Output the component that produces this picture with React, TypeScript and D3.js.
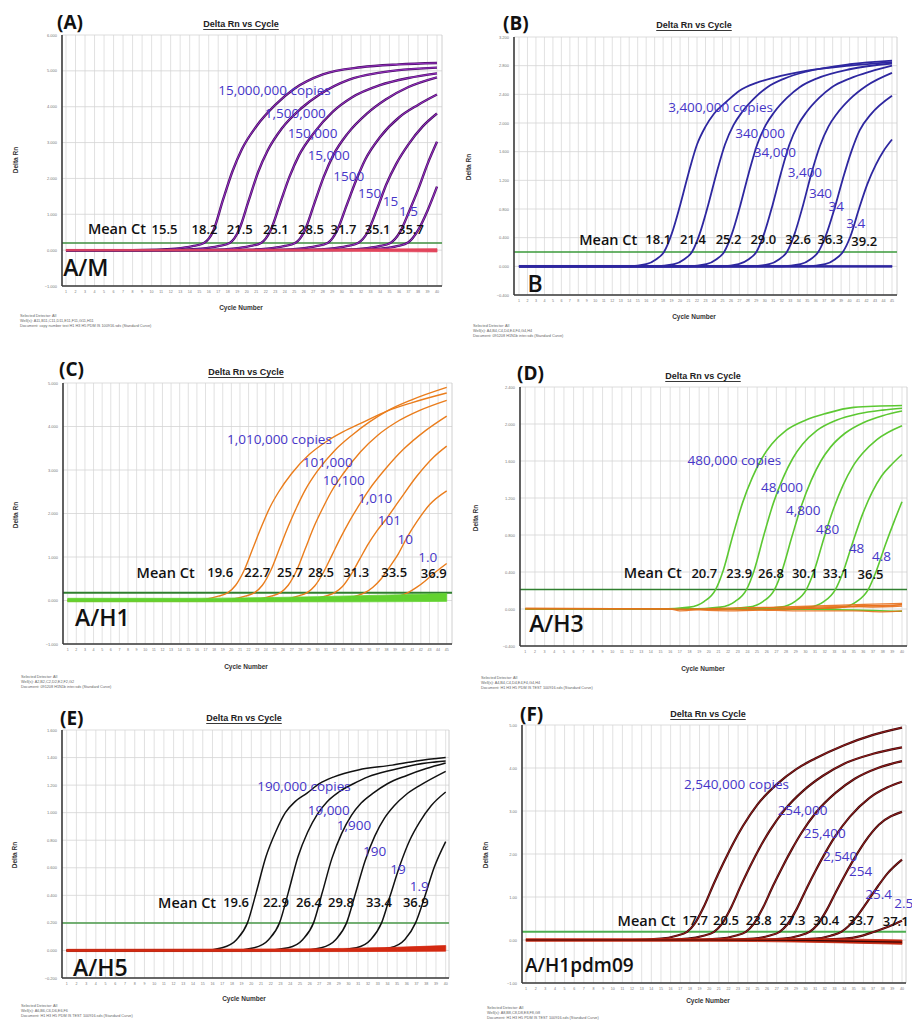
import React from 'react';
import * as d3 from 'd3';

type Pt = [number, number];
type Band = [number, number, number];

// ---------------- Panel A : A/M ----------------
const aYTicks = [-1, 0, 1, 2, 3, 4, 5, 6];
const aCopies = ['15,000,000 copies', '1,500,000', '150,000', '15,000', '1500', '150', '15', '1.5'];
const aMeanCt = ['15.5', '18.2', '21.5', '25.1', '28.5', '31.7', '35.1', '35.7'];
const aCurves: Pt[][] = [
  [[1,0],[8,0],[10.5,0.01],[12.5,0.04],[14.3,0.11],[15.5,0.2],[16.5,0.55],[17.5,1.4],[18.5,2.2],[19.5,2.82],[21,3.45],[23,4.05],[25,4.5],[28,4.9],[32,5.1],[36,5.18],[40,5.22]],
  [[1,0],[11,0],[13.3,0.01],[15.2,0.04],[17,0.11],[18.2,0.2],[19.2,0.57],[20.2,1.38],[21.2,2.18],[22.2,2.78],[23.7,3.4],[25.7,3.95],[27.7,4.35],[30.7,4.75],[34,4.95],[40,5.09]],
  [[1,0],[14,0],[16.6,0.01],[18.5,0.04],[20.3,0.11],[21.5,0.2],[22.5,0.55],[23.5,1.3],[24.5,2.05],[25.5,2.65],[27,3.25],[29,3.85],[31,4.25],[34,4.6],[37,4.8],[40,4.93]],
  [[1,0],[18,0],[20.2,0.01],[22.1,0.04],[23.9,0.11],[25.1,0.2],[26.1,0.55],[27.1,1.3],[28.1,2.05],[29.1,2.65],[30.6,3.25],[32.6,3.8],[34.6,4.2],[37,4.55],[40,4.82]],
  [[1,0],[21,0],[23.6,0.01],[25.5,0.04],[27.3,0.11],[28.5,0.2],[29.5,0.55],[30.5,1.25],[31.5,1.95],[32.5,2.55],[34,3.15],[36,3.7],[38,4.05],[40,4.34]],
  [[1,0],[24,0],[26.8,0.01],[28.7,0.04],[30.5,0.11],[31.7,0.2],[32.7,0.5],[33.7,1.15],[34.7,1.85],[35.7,2.4],[37,2.95],[38.5,3.45],[40,3.81]],
  [[1,0],[27,0],[30.2,0.01],[32.1,0.04],[33.9,0.11],[35.1,0.2],[36.1,0.5],[37.1,1.1],[38.1,1.75],[39,2.4],[40,3.02]],
  [[1,0],[29,0],[32,0.01],[34,0.04],[35.8,0.11],[37,0.22],[38,0.55],[39,1.1],[40,1.77]],
];
const aNegBand: Band[] = [[1,-0.02,0.02],[15,-0.02,0.02],[30,-0.03,0.03],[40,-0.05,0.04]];
const aCopyPos: Pt[] = [[17.0,4.46],[21.9,3.82],[24.3,3.26],[26.4,2.65],[29.1,2.06],[31.7,1.59],[34.3,1.36],[36.0,1.08]];
const aCtPos: Pt[] = [[10.0,0.59],[14.2,0.59],[17.9,0.59],[21.7,0.59],[25.4,0.59],[28.8,0.59],[32.4,0.59],[35.9,0.59]];

// ---------------- Panel B : B ----------------
const bYTicks = [-0.4, 0, 0.4, 0.8, 1.2, 1.6, 2.0, 2.4, 2.8, 3.2];
const bCopies = ['3,400,000 copies', '340,000', '34,000', '3,400', '340', '34', '3.4'];
const bMeanCt = ['18.1', '21.4', '25.2', '29.0', '32.6', '36.3', '39.2'];
const bCurves: Pt[][] = [
  [[1,0],[14,0],[16,0.03],[17.2,0.1],[18.1,0.2],[19,0.45],[20,0.85],[21,1.3],[22,1.7],[23,1.95],[24,2.13],[25.5,2.3],[27,2.45],[29,2.56],[31,2.63],[35,2.73],[40,2.8],[45,2.85]],
  [[1,0],[17,0],[19.3,0.03],[20.5,0.1],[21.4,0.2],[22.3,0.45],[23.3,0.85],[24.3,1.3],[25.3,1.7],[26.3,1.97],[27.3,2.15],[28.8,2.35],[30.3,2.5],[32.3,2.62],[35,2.72],[40,2.82],[45,2.87]],
  [[1,0],[21,0],[23.1,0.03],[24.3,0.1],[25.2,0.2],[26.1,0.45],[27.1,0.85],[28.1,1.3],[29.1,1.7],[30.1,1.97],[31.1,2.15],[32.6,2.35],[34.1,2.5],[36.1,2.62],[40,2.75],[45,2.83]],
  [[1,0],[25,0],[26.9,0.03],[28.1,0.1],[29,0.2],[29.9,0.45],[30.9,0.85],[31.9,1.3],[32.9,1.7],[33.9,1.97],[34.9,2.15],[36.4,2.35],[37.9,2.5],[40,2.62],[42.5,2.72],[45,2.8]],
  [[1,0],[28,0],[30.5,0.03],[31.7,0.1],[32.6,0.2],[33.5,0.45],[34.5,0.85],[35.5,1.3],[36.5,1.68],[37.5,1.95],[38.5,2.13],[40,2.33],[42,2.52],[45,2.7]],
  [[1,0],[32,0],[34.2,0.03],[35.4,0.1],[36.3,0.2],[37.2,0.43],[38.2,0.8],[39.2,1.22],[40.2,1.6],[41.2,1.9],[42.5,2.12],[45,2.38]],
  [[1,0],[35,0],[37.1,0.03],[38.3,0.1],[39.2,0.2],[40.1,0.42],[41.1,0.8],[42.1,1.15],[43.1,1.42],[44,1.61],[45,1.77]],
];
const bNegBand: Band[] = [[1,-0.012,0.012],[45,-0.012,0.012]];
const bCopyPos: Pt[] = [[18.6,2.22],[26.5,1.86],[28.7,1.59],[32.7,1.32],[35.2,1.02],[37.5,0.84],[39.6,0.61]];
const bCtPos: Pt[] = [[15.9,0.38],[20.0,0.38],[24.2,0.38],[28.3,0.38],[32.4,0.38],[36.2,0.38],[40.2,0.36]];

// ---------------- Panel C : A/H1 ----------------
const cYTicks = [-1, 0, 1, 2, 3, 4, 5];
const cCopies = ['1,010,000 copies', '101,000', '10,100', '1,010', '101', '10', '1.0'];
const cMeanCt = ['19.6', '22.7', '25.7', '28.5', '31.3', '33.5', '36.9'];
const cCurves: Pt[][] = [
  [[1,0],[15,0],[17,0.03],[18.5,0.1],[19.6,0.18],[20.5,0.35],[21.5,0.7],[22.5,1.2],[23.5,1.7],[24.5,2.15],[25.5,2.5],[27,2.92],[29,3.35],[31,3.65],[33,3.88],[35,4.07],[38,4.35],[41,4.55],[45,4.77]],
  [[1,0],[18,0],[20.1,0.03],[21.6,0.1],[22.7,0.18],[23.6,0.35],[24.6,0.7],[25.6,1.2],[26.6,1.7],[27.6,2.15],[28.6,2.55],[30,2.98],[32,3.45],[34,3.8],[36,4.1],[38,4.35],[41,4.62],[45,4.9]],
  [[1,0],[21,0],[23.1,0.03],[24.6,0.1],[25.7,0.18],[26.6,0.35],[27.6,0.7],[28.6,1.2],[29.6,1.7],[30.6,2.12],[31.6,2.5],[33,2.92],[35,3.42],[37,3.8],[39,4.08],[42,4.38],[45,4.6]],
  [[1,0],[24,0],[26.3,0.03],[27.7,0.1],[28.8,0.18],[29.7,0.34],[30.7,0.65],[31.7,1.05],[32.7,1.45],[33.7,1.82],[34.7,2.15],[36,2.55],[38,3.05],[40,3.48],[42.5,3.9],[45,4.24]],
  [[1,0],[27,0],[29.5,0.03],[30.9,0.1],[32,0.18],[32.9,0.32],[33.9,0.6],[34.9,0.95],[35.9,1.3],[36.9,1.6],[38,1.88],[39.5,2.3],[41.5,2.85],[43.5,3.3],[45,3.55]],
  [[1,0],[30,0],[33,0.03],[34.4,0.1],[35.5,0.18],[36.4,0.3],[37.4,0.5],[38.4,0.78],[39.4,1.08],[40.4,1.45],[41.5,1.8],[43,2.2],[45,2.52]],
  [[1,0],[34,0],[37.5,0.03],[39.2,0.08],[40.5,0.18],[41.5,0.3],[42.5,0.45],[43.5,0.62],[45,0.85]],
];
const cNegBand: Band[] = [[1,-0.03,0.05],[15,-0.03,0.05],[25,-0.03,0.07],[35,-0.03,0.11],[45,-0.02,0.16]];
const cCopyPos: Pt[] = [[19.5,3.72],[28.3,3.18],[30.6,2.77],[34.7,2.36],[37.0,1.85],[39.3,1.41],[41.7,1.0]];
const cCtPos: Pt[] = [[17.2,0.65],[21.5,0.65],[25.3,0.65],[28.9,0.65],[33.0,0.65],[37.4,0.65],[42.0,0.63]];

// ---------------- Panel D : A/H3 ----------------
const dYTicks = [-0.4, 0, 0.4, 0.8, 1.2, 1.6, 2.0, 2.4];
const dCopies = ['480,000 copies', '48,000', '4,800', '480', '48', '4.8'];
const dMeanCt = ['20.7', '23.9', '26.8', '30.1', '33.1', '36.5'];
const dCurves: Pt[][] = [
  [[1,0],[15,0],[18,0.02],[19.5,0.08],[20.7,0.21],[21.5,0.42],[22.5,0.8],[23.5,1.15],[24.5,1.42],[25.5,1.63],[26.5,1.78],[28,1.93],[30,2.04],[32,2.11],[35,2.18],[40,2.2]],
  [[1,0],[18,0],[21.2,0.02],[22.7,0.08],[23.9,0.21],[24.7,0.42],[25.7,0.8],[26.7,1.15],[27.7,1.42],[28.7,1.63],[29.7,1.78],[31.2,1.93],[33.2,2.04],[35.5,2.11],[38,2.15],[40,2.17]],
  [[1,0],[21,0],[24.1,0.02],[25.6,0.08],[26.8,0.21],[27.6,0.42],[28.6,0.78],[29.6,1.12],[30.6,1.39],[31.6,1.6],[32.6,1.75],[34.1,1.9],[36.1,2.02],[38,2.09],[40,2.14]],
  [[1,0],[24,0],[27.4,0.02],[28.9,0.08],[30.1,0.21],[30.9,0.41],[31.9,0.76],[32.9,1.08],[33.9,1.34],[34.9,1.54],[35.9,1.68],[37.4,1.83],[40,1.98]],
  [[1,0],[27,0],[30.4,0.02],[31.9,0.08],[33.1,0.21],[33.9,0.4],[34.9,0.72],[35.9,1.02],[36.9,1.26],[37.9,1.44],[39,1.57],[40,1.67]],
  [[1,0],[30,0],[33.8,0.02],[35.3,0.08],[36.5,0.21],[37.3,0.4],[38.3,0.7],[39.2,0.95],[40,1.16]],
];
const dNoise: Pt[][] = [
  [[1,0.01],[10,0.005],[16,0],[17,-0.02],[20,0.005],[27,0.02],[32,0.035],[36,0.05],[40,0.06]],
  [[1,0],[16,0],[22,-0.02],[28,0],[34,0.02],[37,0.035],[40,0.045]],
  [[18,0],[25,-0.01],[30,-0.02],[35,-0.02],[38,-0.03],[40,-0.02]],
  [[24,0.01],[30,0.015],[34,0.03],[37,0.02],[40,0.03]],
  [[28,0.005],[33,0.01],[36,0.04],[38,0.03],[40,0.05]],
];
const dNegGreen: Pt[] = [[1,0],[25,0],[35,-0.01],[40,-0.025]];
const dCopyPos: Pt[] = [[17.8,1.61],[25.4,1.32],[28.0,1.07],[31.1,0.87],[34.5,0.66],[36.9,0.57]];
const dCtPos: Pt[] = [[18.2,0.39],[21.8,0.39],[25.1,0.39],[28.6,0.39],[31.8,0.39],[35.4,0.38]];

// ---------------- Panel E : A/H5 ----------------
const eYTicks = [-0.2, 0, 0.2, 0.4, 0.6, 0.8, 1.0, 1.2, 1.4, 1.6];
const eCopies = ['190,000 copies', '19,000', '1,900', '190', '19', '1.9'];
const eMeanCt = ['19.6', '22.9', '26.4', '29.8', '33.4', '36.9'];
const eCurves: Pt[][] = [
  [[1,0],[15,0],[17,0.02],[18.5,0.08],[19.6,0.2],[20.5,0.42],[21.5,0.68],[22.5,0.86],[23.5,1.0],[24.5,1.08],[25.7,1.14],[27,1.21],[28.5,1.26],[31,1.31],[34.5,1.345],[37,1.375],[40,1.4]],
  [[1,0],[18,0],[20.3,0.02],[21.8,0.08],[22.9,0.2],[23.8,0.42],[24.8,0.68],[25.8,0.86],[26.8,0.99],[27.8,1.08],[29,1.15],[30.5,1.21],[32,1.26],[34.5,1.31],[37,1.35],[40,1.375]],
  [[1,0],[21,0],[23.8,0.02],[25.3,0.08],[26.4,0.2],[27.3,0.42],[28.3,0.67],[29.3,0.85],[30.3,0.98],[31.3,1.07],[32.5,1.14],[34,1.21],[36,1.27],[38,1.32],[40,1.36]],
  [[1,0],[25,0],[27.2,0.02],[28.7,0.08],[29.8,0.2],[30.7,0.41],[31.7,0.65],[32.7,0.83],[33.7,0.96],[34.7,1.05],[35.9,1.13],[37.4,1.2],[40,1.3]],
  [[1,0],[28,0],[30.8,0.02],[32.3,0.08],[33.4,0.2],[34.3,0.4],[35.3,0.62],[36.3,0.8],[37.3,0.93],[38.5,1.05],[40,1.15]],
  [[1,0],[32,0],[34.3,0.02],[35.8,0.08],[36.9,0.2],[37.8,0.38],[38.8,0.6],[40,0.79]],
];
const eNegBand: Band[] = [[1,-0.008,0.008],[20,-0.008,0.01],[30,-0.008,0.015],[40,-0.005,0.035]];
const eCopyPos: Pt[] = [[20.6,1.19],[25.8,1.02],[28.8,0.91],[31.5,0.72],[34.3,0.59],[36.3,0.47]];
const eCtPos: Pt[] = [[17.1,0.35],[21.2,0.35],[24.6,0.35],[27.9,0.35],[31.8,0.35],[35.6,0.35]];

// ---------------- Panel F : A/H1pdm09 ----------------
const fYTicks = [-1, 0, 1, 2, 3, 4, 5];
const fCopies = ['2,540,000 copies', '254,000', '25,400', '2,540', '254', '25.4', '2.5'];
const fMeanCt = ['17.7', '20.5', '23.8', '27.3', '30.4', '33.7', '37.1'];
const fCurves: Pt[][] = [
  [[1,0],[12,0],[15,0.03],[16.6,0.1],[17.7,0.19],[18.5,0.38],[19.5,0.8],[20.5,1.32],[21.5,1.8],[22.5,2.25],[23.5,2.65],[25,3.15],[27,3.62],[29,3.97],[31,4.22],[34,4.53],[37,4.77],[40,4.94]],
  [[1,0],[15,0],[17.8,0.03],[19.4,0.1],[20.5,0.19],[21.3,0.37],[22.3,0.77],[23.3,1.27],[24.3,1.74],[25.3,2.17],[26.3,2.55],[27.8,3.02],[29.8,3.48],[31.8,3.82],[34,4.1],[37,4.33],[40,4.48]],
  [[1,0],[18,0],[21.1,0.03],[22.7,0.1],[23.8,0.19],[24.6,0.37],[25.6,0.76],[26.6,1.25],[27.6,1.7],[28.6,2.12],[29.6,2.5],[31.1,2.97],[33.1,3.42],[35.1,3.75],[37.5,4.0],[40,4.16]],
  [[1,0],[21,0],[24.6,0.03],[26.2,0.1],[27.3,0.19],[28.1,0.36],[29.1,0.73],[30.1,1.2],[31.1,1.64],[32.1,2.05],[33.1,2.42],[34.6,2.87],[36.6,3.3],[38.5,3.55],[40,3.68]],
  [[1,0],[24,0],[27.7,0.03],[29.3,0.1],[30.4,0.19],[31.2,0.35],[32.2,0.7],[33.2,1.14],[34.2,1.56],[35.2,1.95],[36.2,2.3],[37.6,2.68],[40,2.98]],
  [[1,0],[27,0],[31,0.03],[32.6,0.1],[33.7,0.19],[34.5,0.33],[35.5,0.6],[36.5,0.92],[37.5,1.25],[38.5,1.55],[40,1.87]],
  [[1,0],[30,0],[34,0.03],[35.7,0.09],[37.1,0.19],[38,0.26],[39,0.35],[40,0.45]],
];
const fNegBand: Band[] = [[1,-0.03,0.03],[20,-0.03,0.03],[30,-0.05,0.03],[40,-0.1,0.0]];
const fCopyPos: Pt[] = [[17.4,3.63],[27.1,3.03],[29.8,2.49],[31.8,1.95],[34.5,1.6],[36.2,1.07],[39.2,0.87]];
const fCtPos: Pt[] = [[17.2,0.46],[20.4,0.46],[23.8,0.46],[27.3,0.46],[30.8,0.46],[34.4,0.46],[38.0,0.44]];

const SANS = "'Open Sans', 'Noto Sans', sans-serif";
const ARIAL = "'Liberation Sans', Arial, sans-serif";
const LABEL_BLUE = '#4636c8';

interface Cfg {
  letter: string; tag: string; tagSize: number;
  cycles: number; yTicks: number[]; yFmt: string;
  box: { l: number; r: number; t: number; b: number }; xr: [number, number];
  letterPos: Pt; titlePos: Pt; xLabelPos: Pt; yLabelPos: Pt; footPos: Pt;
  curves: Pt[][]; curveColor: string; curveWidth: number; curveOutline?: string;
  band?: Band[]; bandColor?: string;
  noise?: Pt[][]; noiseColor?: string; extraLine?: Pt[]; extraColor?: string;
  threshold: number; thColor: string; thWidth: number;
  copies: string[]; copyPos: Pt[]; meanCt: string[]; ctPos: Pt[]; meanPos: Pt; tagPos: Pt;
  foot: string[];
}

const configs: Cfg[] = [
  {
    letter: '(A)', tag: 'A/M', tagSize: 23, cycles: 40, yTicks: aYTicks, yFmt: '.3f',
    box: { l: 62, r: 442, t: 35, b: 286 }, xr: [66, 437],
    letterPos: [57, 22], titlePos: [241, 24], xLabelPos: [241, 307], yLabelPos: [15, 160], footPos: [20, 316],
    curves: aCurves, curveColor: '#9a32c4', curveWidth: 1.0, curveOutline: '#4a0f68',
    band: aNegBand, bandColor: '#e2455c',
    threshold: 0.2, thColor: '#3e8e3e', thWidth: 1.6,
    copies: aCopies, copyPos: aCopyPos, meanCt: aMeanCt, ctPos: aCtPos, meanPos: [3.3, 0.59], tagPos: [0.7, -0.47],
    foot: ['Selected Detector: All', 'Well(s): A11,B11,C11,D11,E11,F11,G11,H11', 'Document: copy number test  H1 H3 H5 PDM IS 100916.sds (Standard Curve)'],
  },
  {
    letter: '(B)', tag: 'B', tagSize: 23, cycles: 45, yTicks: bYTicks, yFmt: '.3f',
    box: { l: 514, r: 897, t: 37, b: 295 }, xr: [519, 892],
    letterPos: [503, 23], titlePos: [694, 25], xLabelPos: [694, 316], yLabelPos: [468, 167], footPos: [473, 326],
    curves: bCurves, curveColor: '#2e27a0', curveWidth: 1.8,
    band: bNegBand, bandColor: '#2e27a0',
    threshold: 0.2, thColor: '#3a9a3a', thWidth: 1.5,
    copies: bCopies, copyPos: bCopyPos, meanCt: bMeanCt, ctPos: bCtPos, meanPos: [8.1, 0.38], tagPos: [2.0, -0.23],
    foot: ['Selected Detector: All', 'Well(s): A4,B4,C4,D4,E4,F4,G4,H4', 'Document: 091208 H1N1b inter.sds (Standard Curve)'],
  },
  {
    letter: '(C)', tag: 'A/H1', tagSize: 23, cycles: 45, yTicks: cYTicks, yFmt: '.3f',
    box: { l: 63, r: 452, t: 383, b: 644 }, xr: [67.7, 446.7],
    letterPos: [59, 369], titlePos: [246, 372], xLabelPos: [246, 666], yLabelPos: [15, 515], footPos: [21, 677],
    curves: cCurves, curveColor: '#ea7d1c', curveWidth: 1.4,
    band: cNegBand, bandColor: '#62d230',
    threshold: 0.18, thColor: '#2f7f2f', thWidth: 2,
    copies: cCopies, copyPos: cCopyPos, meanCt: cMeanCt, ctPos: cCtPos, meanPos: [9.0, 0.65], tagPos: [1.85, -0.38],
    foot: ['Selected Detector: All', 'Well(s): A2,B2,C2,D2,E2,F2,G2', 'Document: 091208 H1N1b inter.sds (Standard Curve)'],
  },
  {
    letter: '(D)', tag: 'A/H3', tagSize: 23, cycles: 40, yTicks: dYTicks, yFmt: '.3f',
    box: { l: 520, r: 907, t: 387, b: 646 }, xr: [525.3, 902],
    letterPos: [517, 373], titlePos: [703, 376], xLabelPos: [703, 668], yLabelPos: [475, 518], footPos: [481, 678],
    curves: dCurves, curveColor: '#5cc832', curveWidth: 1.6,
    noise: dNoise, noiseColor: '#e8701c', extraLine: dNegGreen, extraColor: '#5cc832',
    threshold: 0.21, thColor: '#2f7f2f', thWidth: 1.5,
    copies: dCopies, copyPos: dCopyPos, meanCt: dMeanCt, ctPos: dCtPos, meanPos: [11.2, 0.39], tagPos: [1.4, -0.15],
    foot: ['Selected Detector: All', 'Well(s): A4,B4,C4,D4,E4,F4,G4,H4', 'Document: H1 H3 H5 PDM IS TEST 100916.sds (Standard Curve)'],
  },
  {
    letter: '(E)', tag: 'A/H5', tagSize: 23, cycles: 40, yTicks: eYTicks, yFmt: '.3f',
    box: { l: 62, r: 449, t: 730, b: 978 }, xr: [66.7, 445.7],
    letterPos: [60, 718], titlePos: [244, 718], xLabelPos: [244, 998], yLabelPos: [14, 855], footPos: [21, 1006],
    curves: eCurves, curveColor: '#111111', curveWidth: 1.5,
    band: eNegBand, bandColor: '#d42a12',
    threshold: 0.2, thColor: '#4a9a4a', thWidth: 1.5,
    copies: eCopies, copyPos: eCopyPos, meanCt: eMeanCt, ctPos: eCtPos, meanPos: [10.4, 0.35], tagPos: [1.65, -0.12],
    foot: ['Selected Detector: All', 'Well(s): A6,B6,C6,D6,E6,F6', 'Document: H1 H3 H5 PDM IS TEST 100916.sds (Standard Curve)'],
  },
  {
    letter: '(F)', tag: 'A/H1pdm09', tagSize: 19, cycles: 40, yTicks: fYTicks, yFmt: '.2f',
    box: { l: 522, r: 906, t: 725, b: 983 }, xr: [526, 902],
    letterPos: [520, 714], titlePos: [708, 714], xLabelPos: [708, 1000], yLabelPos: [485, 855], footPos: [487, 1008],
    curves: fCurves, curveColor: '#b02222', curveWidth: 0.8, curveOutline: '#3a0808',
    band: fNegBand, bandColor: '#c4260e',
    threshold: 0.19, thColor: '#4caf50', thWidth: 2,
    copies: fCopies, copyPos: fCopyPos, meanCt: fMeanCt, ctPos: fCtPos, meanPos: [10.5, 0.46], tagPos: [0.9, -0.59],
    foot: ['Selected Detector: All', 'Well(s): A8,B8,C8,D8,E8,F8,G8', 'Document: H1 H3 H5 PDM IS TEST 100916.sds (Standard Curve)'],
  },
];

function Panel({ cfg }: { cfg: Cfg }) {
  const { box } = cfg;
  const x = d3.scaleLinear().domain([1, cfg.cycles]).range(cfg.xr);
  const y = d3.scaleLinear().domain([cfg.yTicks[0], cfg.yTicks[cfg.yTicks.length - 1]]).range([box.b, box.t]);
  const line = d3.line<Pt>().x(d => x(d[0])).y(d => y(d[1])).curve(d3.curveMonotoneX);
  const area = d3.area<Band>().x(d => x(d[0])).y0(d => y(d[1])).y1(d => y(d[2])).curve(d3.curveMonotoneX);
  const cyc = d3.range(1, cfg.cycles + 1);
  const fmt = d3.format(cfg.yFmt);
  const clipId = 'clip' + cfg.letter.replace(/[()]/g, '');
  return (
    <g>
      <defs>
        <clipPath id={clipId}>
          <rect x={box.l} y={box.t - 2} width={box.r - box.l} height={box.b - box.t + 2} />
        </clipPath>
      </defs>
      {cyc.map(c => (
        <line key={'v' + c} x1={x(c)} x2={x(c)} y1={box.t} y2={box.b} stroke="#d9d9d9" strokeWidth={0.8} />
      ))}
      {cfg.yTicks.map(t => (
        <line key={'h' + t} x1={box.l} x2={box.r} y1={y(t)} y2={y(t)} stroke="#d4d4d4" strokeWidth={0.8} />
      ))}
      <line x1={box.r} x2={box.r} y1={box.t} y2={box.b} stroke="#c4c4c4" strokeWidth={0.8} />
      {cfg.yTicks.map(t => (
        <text key={'yt' + t} x={box.l - 5} y={y(t)} fontSize={4} fill="#777" textAnchor="end" dominantBaseline="central" fontFamily={ARIAL}>{fmt(t)}</text>
      ))}
      {cyc.map(c => (
        <text key={'xt' + c} x={x(c)} y={box.b + 6} fontSize={3.6} fill="#777" textAnchor="middle" dominantBaseline="central" fontFamily={ARIAL}>{c}</text>
      ))}
      <g clipPath={`url(#${clipId})`}>
        <line x1={box.l} x2={box.r} y1={y(cfg.threshold)} y2={y(cfg.threshold)} stroke={cfg.thColor} strokeWidth={cfg.thWidth} />
        {cfg.curves.map((c, i) => (
          <g key={'c' + i}>
            {cfg.curveOutline && <path d={line(c) || ''} fill="none" stroke={cfg.curveOutline} strokeWidth={cfg.curveWidth + 1.4} />}
            <path d={line(c) || ''} fill="none" stroke={cfg.curveColor} strokeWidth={cfg.curveWidth} />
          </g>
        ))}
        {cfg.extraLine && <path d={line(cfg.extraLine) || ''} fill="none" stroke={cfg.extraColor} strokeWidth={1.6} />}
        {cfg.noise && cfg.noise.map((n, i) => (
          <path key={'n' + i} d={line(n) || ''} fill="none" stroke={cfg.noiseColor} strokeWidth={1.3} opacity={0.9} />
        ))}
        {cfg.band && <path d={area(cfg.band) || ''} fill={cfg.bandColor} stroke={cfg.bandColor} strokeWidth={0.8} />}
        {cfg.letter === '(F)' && cfg.band && (
          <path d={line(cfg.band.map(b => [b[0], (b[1] + b[2]) / 2] as Pt)) || ''} fill="none" stroke="#3a0808" strokeWidth={1.2} />
        )}
      </g>
      <line x1={box.l} x2={box.l} y1={box.t} y2={box.b} stroke="#3a3a3a" strokeWidth={1.6} />
      <line x1={box.l} x2={box.r} y1={box.b} y2={box.b} stroke="#3a3a3a" strokeWidth={1.6} />
      {cfg.copies.map((t, i) => (
        <text key={'cp' + i} x={x(cfg.copyPos[i][0])} y={y(cfg.copyPos[i][1])} fontSize={13.5} fill={LABEL_BLUE} fontFamily={SANS} fontWeight={500} dominantBaseline="central">{t}</text>
      ))}
      <text x={x(cfg.meanPos[0])} y={y(cfg.meanPos[1])} fontSize={14.5} fill="#111" fontFamily={SANS} fontWeight={600} dominantBaseline="central">Mean Ct</text>
      {cfg.meanCt.map((t, i) => (
        <text key={'ct' + i} x={x(cfg.ctPos[i][0])} y={y(cfg.ctPos[i][1])} fontSize={13} fill="#111" fontFamily={SANS} fontWeight={600} dominantBaseline="central">{t}</text>
      ))}
      <text x={x(cfg.tagPos[0])} y={y(cfg.tagPos[1])} fontSize={cfg.tagSize} fill="#111" fontFamily={SANS} fontWeight={600} dominantBaseline="central">{cfg.tag}</text>
      <text x={cfg.letterPos[0]} y={cfg.letterPos[1]} fontSize={19} fill="#111" fontFamily={SANS} fontWeight={700} dominantBaseline="central">{cfg.letter}</text>
      <text x={cfg.titlePos[0]} y={cfg.titlePos[1]} fontSize={9} fill="#222" fontFamily={ARIAL} fontWeight={700} textAnchor="middle" dominantBaseline="central" textDecoration="underline">Delta Rn vs Cycle</text>
      <text x={cfg.xLabelPos[0]} y={cfg.xLabelPos[1]} fontSize={6.5} fill="#333" fontFamily={ARIAL} fontWeight={700} textAnchor="middle" dominantBaseline="central">Cycle Number</text>
      <text transform={`translate(${cfg.yLabelPos[0]},${cfg.yLabelPos[1]}) rotate(-90)`} fontSize={6.5} fill="#333" fontFamily={ARIAL} fontWeight={700} textAnchor="middle" dominantBaseline="central">Delta Rn</text>
      {cfg.foot.map((f, i) => (
        <text key={'f' + i} x={cfg.footPos[0]} y={cfg.footPos[1] + i * 5} fontSize={3.8} fill="#666" fontFamily={ARIAL} dominantBaseline="central">{f}</text>
      ))}
    </g>
  );
}

export default function App() {
  return (
    <svg width={912} height={1023} viewBox="0 0 912 1023" style={{ position: 'absolute', left: 0, top: 0, background: '#fff' }}>
      <rect x={0} y={0} width={912} height={1023} fill="#fff" />
      {configs.map(c => <Panel key={c.letter} cfg={c} />)}
    </svg>
  );
}
